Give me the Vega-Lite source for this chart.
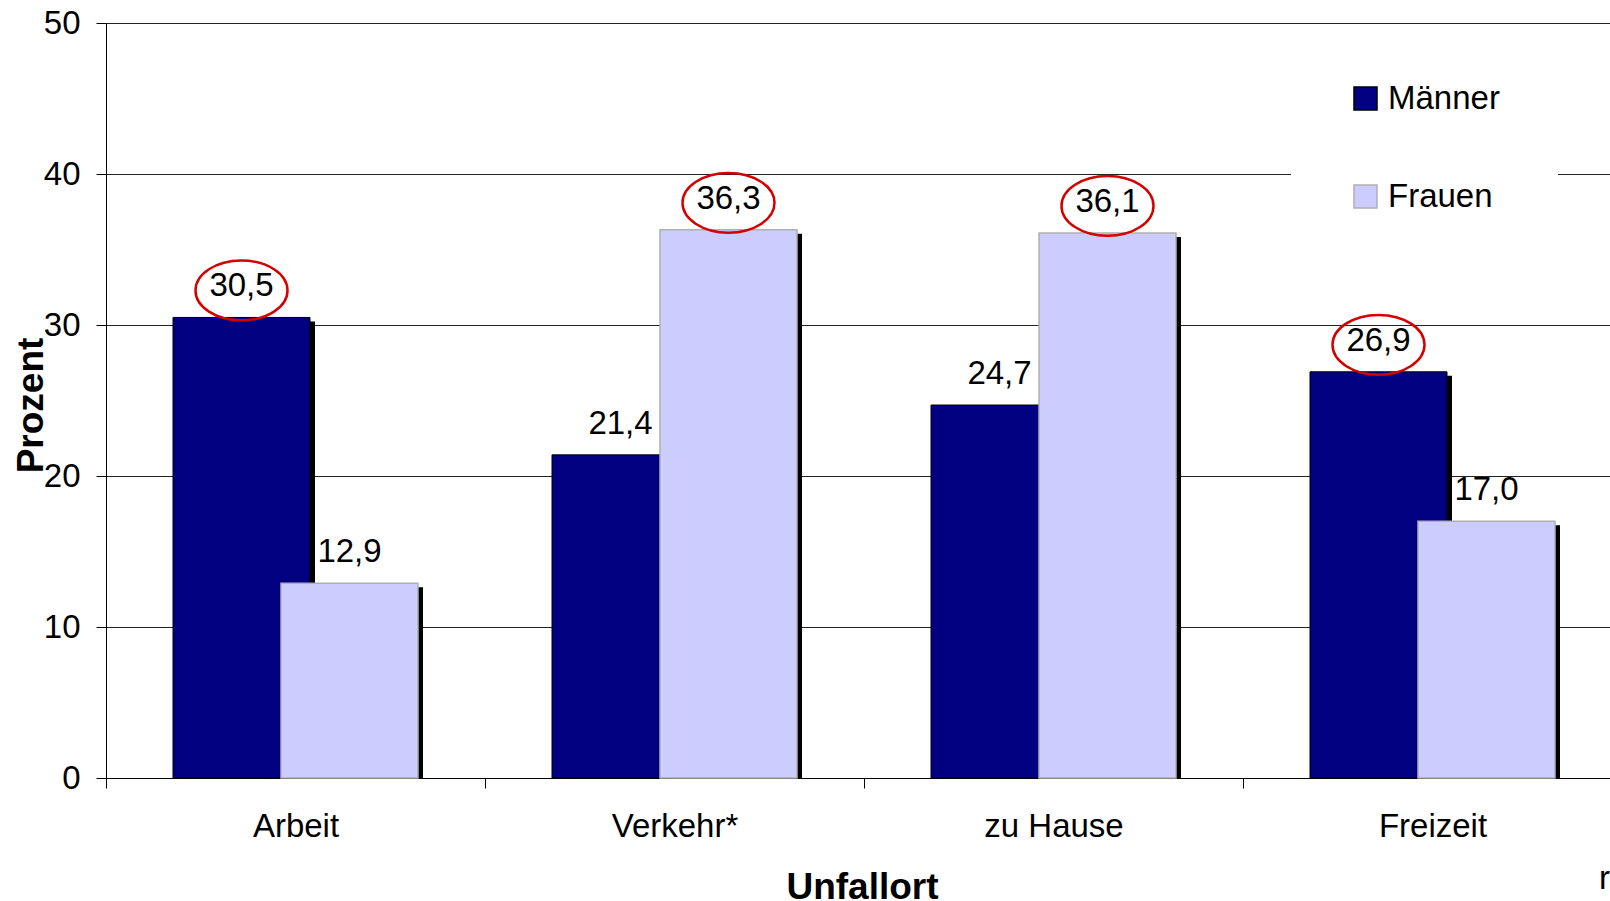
{
  "$schema": "https://vega.github.io/schema/vega-lite/v6.json",
  "width": 1516,
  "height": 755,
  "autosize": {"type": "none"},
  "padding": {"left": 106, "top": 23, "right": -12, "bottom": 123},
  "background": "white",
  "title": {"text": "r", "orient": "bottom", "anchor": "end", "frame": "group", "font": "Liberation Sans", "fontSize": 33, "fontWeight": "normal", "color": "black", "offset": -42, "dx": -12},
  "config": {
    "view": {"stroke": null},
    "font": "Liberation Sans",
    "locale": {"number": {"decimal": ",", "thousands": ".", "grouping": [3], "currency": ["", " €"]}}
  },
  "data": {
    "values": [
      {"Unfallort": "Arbeit", "Geschlecht": "Männer", "Prozent": 30.5, "markiert": true},
      {"Unfallort": "Arbeit", "Geschlecht": "Frauen", "Prozent": 12.9, "markiert": false},
      {"Unfallort": "Verkehr*", "Geschlecht": "Männer", "Prozent": 21.4, "markiert": false},
      {"Unfallort": "Verkehr*", "Geschlecht": "Frauen", "Prozent": 36.3, "markiert": true},
      {"Unfallort": "zu Hause", "Geschlecht": "Männer", "Prozent": 24.7, "markiert": false},
      {"Unfallort": "zu Hause", "Geschlecht": "Frauen", "Prozent": 36.1, "markiert": true},
      {"Unfallort": "Freizeit", "Geschlecht": "Männer", "Prozent": 26.9, "markiert": true},
      {"Unfallort": "Freizeit", "Geschlecht": "Frauen", "Prozent": 17.0, "markiert": false}
    ]
  },
  "encoding": {
    "x": {
      "field": "Unfallort", "type": "nominal",
      "sort": ["Arbeit", "Verkehr*", "zu Hause", "Freizeit"],
      "scale": {"paddingInner": 0, "paddingOuter": 0},
      "axis": {
        "title": "Unfallort", "titleFont": "Liberation Sans", "titleFontSize": 37, "titleFontWeight": "bold", "titleColor": "black",
        "titleY": 120, "titleX": 756, "titleBaseline": "alphabetic",
        "labelAngle": 0, "labelFont": "Liberation Sans", "labelFontSize": 33, "labelColor": "black", "labelPadding": 22,
        "tickSize": 10, "tickBand": "extent", "tickColor": "black", "domainColor": "black", "grid": false
      }
    },
    "y": {
      "field": "Prozent", "type": "quantitative",
      "scale": {"domain": [0, 50], "nice": false},
      "axis": {
        "values": [0, 10, 20, 30, 40, 50],
        "title": "Prozent", "titleFont": "Liberation Sans", "titleFontSize": 37, "titleFontWeight": "bold", "titleColor": "black",
        "titleAngle": -90, "titleX": -64, "titleY": 382, "titleAlign": "center", "titleBaseline": "alphabetic",
        "labelFont": "Liberation Sans", "labelFontSize": 33, "labelColor": "black", "labelPadding": 16,
        "tickSize": 10, "tickColor": "black", "domainColor": "black",
        "grid": true, "gridColor": "#222222", "gridWidth": 1
      }
    }
  },
  "layer": [
    {
      "transform": [{"filter": "datum.Geschlecht === 'Männer'"}],
      "mark": {"type": "bar", "color": "black", "width": 137, "xOffset": -49, "yOffset": 4, "clip": true}
    },
    {
      "transform": [{"filter": "datum.Geschlecht === 'Männer'"}],
      "mark": {"type": "bar", "width": 137, "xOffset": -54, "strokeWidth": 1},
      "encoding": {
        "color": {"field": "Geschlecht", "type": "nominal", "scale": {"domain": ["Männer", "Frauen"], "range": ["#000080", "#ccccff"]},
          "legend": {"title": null, "orient": "none", "legendX": 1185, "legendY": 1, "fillColor": "white", "padding": 58,
            "symbolType": "square", "symbolSize": 529, "symbolStrokeWidth": 1.5, "labelFont": "Liberation Sans", "labelFontSize": 33,
            "labelColor": "black", "labelOffset": 6, "rowPadding": 64}},
        "stroke": {"field": "Geschlecht", "type": "nominal", "scale": {"domain": ["Männer", "Frauen"], "range": ["#000000", "#b0b0b0"]},
          "legend": {"title": null, "orient": "none", "legendX": 1185, "legendY": 1, "fillColor": "white", "padding": 58,
            "symbolType": "square", "symbolSize": 529, "symbolStrokeWidth": 1.5, "labelFont": "Liberation Sans", "labelFontSize": 33,
            "labelColor": "black", "labelOffset": 6, "rowPadding": 64}}
      }
    },
    {
      "transform": [{"filter": "datum.Geschlecht === 'Frauen'"}],
      "mark": {"type": "bar", "color": "black", "width": 137, "xOffset": 59, "yOffset": 4, "clip": true}
    },
    {
      "transform": [{"filter": "datum.Geschlecht === 'Frauen'"}],
      "mark": {"type": "bar", "width": 137, "xOffset": 54, "strokeWidth": 1.5},
      "encoding": {
        "color": {"field": "Geschlecht", "type": "nominal"},
        "stroke": {"field": "Geschlecht", "type": "nominal"}
      }
    },
    {
      "transform": [{"filter": "datum.Geschlecht === 'Männer' && datum.markiert"}],
      "mark": {"type": "point", "shape": "M-1,0A1,0.65,0,1,0,1,0A1,0.65,0,1,0,-1,0Z", "size": 8464, "filled": false, "stroke": "#d40000", "strokeWidth": 2.5, "opacity": 1, "xOffset": -54, "yOffset": -27}
    },
    {
      "transform": [{"filter": "datum.Geschlecht === 'Frauen' && datum.markiert"}],
      "mark": {"type": "point", "shape": "M-1,0A1,0.65,0,1,0,1,0A1,0.65,0,1,0,-1,0Z", "size": 8464, "filled": false, "stroke": "#d40000", "strokeWidth": 2.5, "opacity": 1, "xOffset": 54, "yOffset": -27}
    },
    {
      "transform": [{"filter": "datum.Geschlecht === 'Männer'"}],
      "mark": {"type": "text", "font": "Liberation Sans", "fontSize": 33, "color": "black", "baseline": "middle", "align": "center", "xOffset": -54, "dy": -31},
      "encoding": {"text": {"field": "Prozent", "type": "quantitative", "format": ".1f"}}
    },
    {
      "transform": [{"filter": "datum.Geschlecht === 'Frauen'"}],
      "mark": {"type": "text", "font": "Liberation Sans", "fontSize": 33, "color": "black", "baseline": "middle", "align": "center", "xOffset": 54, "dy": -31},
      "encoding": {"text": {"field": "Prozent", "type": "quantitative", "format": ".1f"}}
    }
  ]
}
